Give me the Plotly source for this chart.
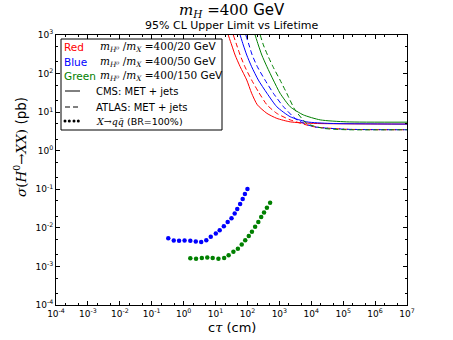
import plotly.graph_objects as go

# CMS (solid) and ATLAS (dashed) limits, per mass point
ctau_cms_20 = [25, 32, 41, 59, 95, 135, 204, 407, 832, 2190, 11750, 1e7]
sig_cms_20 = [1000, 550, 302, 151, 68, 31, 15.5, 9.3, 6.9, 5.6, 5.1, 4.9]
ctau_atlas_20 = [36, 46, 59, 83, 135, 219, 407, 832, 2190, 11750, 129000, 1e7]
sig_atlas_20 = [1000, 550, 302, 151, 68, 34, 15.5, 9.3, 6.3, 4.2, 3.6, 3.5]

ctau_cms_50 = [59, 74, 95, 135, 219, 407, 832, 2190, 7240, 38900, 1e7]
sig_cms_50 = [1000, 550, 302, 151, 68, 31, 13.8, 7.6, 5.6, 5.1, 4.9]
ctau_atlas_50 = [89, 112, 141, 204, 355, 646, 1350, 3550, 11750, 129000, 1e7]
sig_atlas_50 = [1000, 550, 302, 151, 68, 31, 13.8, 6.3, 4.2, 3.6, 3.5]

ctau_cms_150 = [174, 219, 282, 407, 646, 1050, 2190, 5620, 19050, 129000, 1e7]
sig_cms_150 = [1000, 550, 302, 151, 68, 31, 13.8, 8.5, 6.3, 5.6, 5.5]
ctau_atlas_150 = [251, 316, 427, 631, 1050, 1700, 3090, 7240, 24000, 129000, 1e7]
sig_atlas_150 = [1000, 550, 302, 151, 68, 31, 11.5, 5.1, 3.8, 3.5, 3.5]

# X -> q qbar (BR=100%) predictions
ctau_qq_50 = [0.33, 0.49, 0.72, 1.07, 1.62, 2.40, 3.55, 5.13, 7.08, 10.2,
              13.5, 18.2, 24.0, 31.6, 39.8, 47.9, 58.9, 70.8, 83.2, 100]
sig_qq_50 = [0.0054, 0.0047, 0.0046, 0.0047, 0.0046, 0.0044, 0.0043, 0.0048, 0.0059, 0.0071,
             0.0087, 0.011, 0.0141, 0.0178, 0.0234, 0.0309, 0.0417, 0.0562, 0.0759, 0.102]
ctau_qq_150 = [1.62, 2.45, 3.72, 5.50, 8.13, 12.3, 18.6, 25.7, 36.3, 50.1,
               66.1, 85.1, 110, 138, 174, 219, 269, 331, 407, 513]
sig_qq_150 = [0.00162, 0.00158, 0.00166, 0.00170, 0.00166, 0.00158, 0.00166, 0.00195, 0.0024, 0.00288,
              0.00372, 0.00479, 0.00617, 0.00794, 0.0107, 0.0141, 0.0191, 0.0251, 0.0331, 0.0447]

# tick labels
x_tickvals = [1e-4, 1e-3, 1e-2, 1e-1, 1, 10, 100, 1e3, 1e4, 1e5, 1e6, 1e7]
x_ticktext = ["10<sup>-4</sup>", "10<sup>-3</sup>", "10<sup>-2</sup>", "10<sup>-1</sup>", "10<sup>0</sup>",
              "10<sup>1</sup>", "10<sup>2</sup>", "10<sup>3</sup>", "10<sup>4</sup>", "10<sup>5</sup>",
              "10<sup>6</sup>", "10<sup>7</sup>"]
y_tickvals = [1e-4, 1e-3, 1e-2, 1e-1, 1, 10, 100, 1e3]
y_ticktext = ["10<sup>-4</sup>", "10<sup>-3</sup>", "10<sup>-2</sup>", "10<sup>-1</sup>", "10<sup>0</sup>",
              "10<sup>1</sup>", "10<sup>2</sup>", "10<sup>3</sup>"]

RED, BLUE, GREEN = "#ff0000", "#0000ff", "#008000"
SERIF = "DejaVu Serif"
SANS = "DejaVu Sans"
DASH = "5px,3px"

fig = go.Figure()

curves = [
    (ctau_cms_20, sig_cms_20, RED, "solid"),
    (ctau_atlas_20, sig_atlas_20, RED, DASH),
    (ctau_cms_50, sig_cms_50, BLUE, "solid"),
    (ctau_atlas_50, sig_atlas_50, BLUE, DASH),
    (ctau_cms_150, sig_cms_150, GREEN, "solid"),
    (ctau_atlas_150, sig_atlas_150, GREEN, DASH),
]
for x, y, c, d in curves:
    fig.add_trace(go.Scatter(x=x, y=y, mode="lines", line=dict(color=c, width=1, dash=d, shape="spline", smoothing=0.6),
                             showlegend=False, hoverinfo="skip"))

for x, y, c in [(ctau_qq_50, sig_qq_50, BLUE), (ctau_qq_150, sig_qq_150, GREEN)]:
    fig.add_trace(go.Scatter(x=x, y=y, mode="markers", marker=dict(color=c, size=4.5),
                             showlegend=False, hoverinfo="skip"))

axis_common = dict(type="log", showgrid=False, zeroline=False,
                   showline=True, linecolor="black", linewidth=1, mirror="ticks",
                   ticks="inside", ticklen=4, tickcolor="black",
                   minor=dict(ticks="inside", ticklen=2, tickcolor="black", showgrid=False),
                   tickfont=dict(family=SANS, size=9, color="black"))
fig.update_xaxes(range=[-4, 7], tickvals=x_tickvals, ticktext=x_ticktext, **axis_common)
fig.update_yaxes(range=[-4, 3], tickvals=y_tickvals, ticktext=y_ticktext, **axis_common)


def px(x):
    return (x - 56) / 351


def py(y):
    return (305 - y) / 270


def mrat(num):
    return (f"<span style='font-family:{SERIF}'><i>m</i><sub><i>H⁰</i></sub> /<i>m</i><sub><i>X</i></sub> ={num}</span> GeV")


# manual legend (matplotlib style box)
fig.add_shape(type="rect", xref="paper", yref="paper", x0=px(61), x1=px(222), y0=py(130), y1=py(39),
              line=dict(color="black", width=1), fillcolor="white")

rows = [
    (46.7, f"<span style='color:{RED}'>Red</span>", mrat("400/20")),
    (61.7, f"<span style='color:{BLUE}'>Blue</span>", mrat("400/50")),
    (76, f"<span style='color:{GREEN}'>Green</span>", mrat("400/150")),
]
for yy, lab, txt in rows:
    fig.add_annotation(xref="paper", yref="paper", x=px(62), y=py(yy), text=lab,
                       showarrow=False, xanchor="left", yanchor="middle", font=dict(family=SANS, size=10.5))
    fig.add_annotation(xref="paper", yref="paper", x=px(98), y=py(yy), text=txt,
                       showarrow=False, xanchor="left", yanchor="middle", font=dict(family=SANS, size=10.5))

samples = [(91, "CMS: MET + jets", "solid"), (107, "ATLAS: MET + jets", DASH)]
for yy, txt, d in samples:
    fig.add_shape(type="line", xref="paper", yref="paper", x0=px(65), x1=px(80),
                  y0=py(yy), y1=py(yy), line=dict(color="black", width=1, dash=d))
    fig.add_annotation(xref="paper", yref="paper", x=px(94), y=py(yy), text=txt,
                       showarrow=False, xanchor="left", yanchor="middle", font=dict(family=SANS, size=10))
for xx in [65, 69.3, 74, 78.3]:
    fig.add_shape(type="circle", xref="paper", yref="paper", xsizemode="pixel", ysizemode="pixel",
                  xanchor=px(xx), yanchor=py(121), x0=-1.5, x1=1.5, y0=-1.5, y1=1.5,
                  line=dict(width=0), fillcolor="black")
fig.add_annotation(xref="paper", yref="paper", x=px(94), y=py(121),
                   text=f"<span style='font-family:{SERIF}'><i>X</i>→<i>q</i><i>q̄</i></span> (BR=100%)",
                   showarrow=False, xanchor="left", yanchor="middle", font=dict(family=SANS, size=9.5))

# titles
fig.add_annotation(xref="paper", yref="paper", x=0.5, y=py(10), yanchor="middle",
                   text=f"<span style='font-family:{SERIF}'><i>m</i><sub><i>H</i></sub> =400</span> GeV",
                   showarrow=False, font=dict(family=SANS, size=15))
fig.add_annotation(xref="paper", yref="paper", x=0.5, y=py(25.5), yanchor="middle",
                   text="95% CL Upper Limit vs Lifetime", showarrow=False, font=dict(family=SANS, size=11))
fig.add_annotation(xref="paper", yref="paper", x=0.5, y=py(327), yanchor="middle",
                   text=f"c<span style='font-family:{SERIF}'><i>τ</i></span> (cm)", showarrow=False,
                   font=dict(family=SANS, size=13))
fig.add_annotation(xref="paper", yref="paper", x=px(20), y=py(147), xanchor="center",
                   yanchor="middle", textangle=-90,
                   text=f"<span style='font-family:{SERIF}'><i>σ</i>(<i>H</i><sup>0</sup>→<i>XX</i>)</span> (pb)",
                   showarrow=False, font=dict(family=SANS, size=13.5))

fig.update_layout(width=453, height=340, margin=dict(l=56, r=46, t=35, b=35),
                  font=dict(family=SANS, color="black"),
                  plot_bgcolor="white", paper_bgcolor="white", showlegend=False)

fig.write_html("out.html", config={"displayModeBar": False},
               post_script="document.body.style.margin='0';")
